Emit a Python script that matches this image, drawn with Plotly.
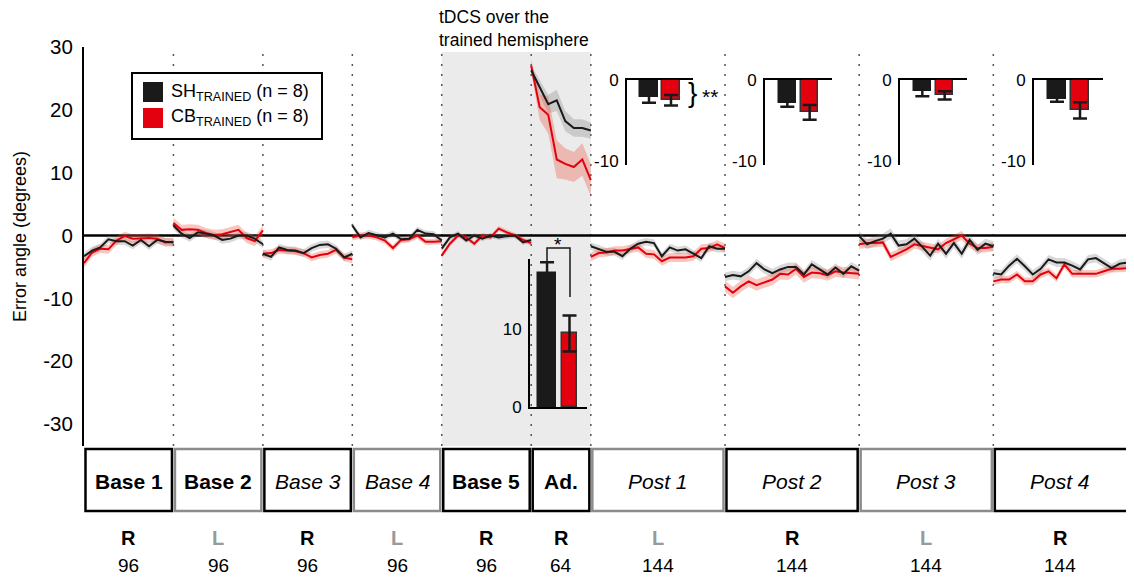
import plotly.graph_objects as go

W, H = 1134, 577
OFF = 8  # page body margin of the browser
FW, FH = W - OFF, H - OFF
FONT = "Liberation Sans, Arial, Helvetica, sans-serif"

# ---------------- data ----------------
blocks = ["Base 1", "Base 2", "Base 3", "Base 4", "Base 5", "Ad.", "Post 1", "Post 2", "Post 3", "Post 4"]
block_trials = [96, 96, 96, 96, 96, 64, 144, 144, 144, 144]
block_hand = ["R", "L", "R", "L", "R", "R", "L", "R", "L", "R"]
block_style = ["b", "b", "i", "i", "b", "b", "i", "i", "i", "i"]

sh_b1 = [-3.3, -2.4, -1.9, -0.6, -0.9, -0.9, -1.6, -0.7, -1.7, -0.7, -1.0, -1.1]
cb_b1 = [-4.4, -2.7, -2.1, -2.2, -0.8, -0.1, -0.5, -0.4, -0.4, -0.5, -1.1, -1.0]
sh_b2 = [1.6, 0.3, -0.4, 0.5, 0.3, 0.0, -0.7, -0.5, 0.0, 0.0, -0.5, -1.4]
cb_b2 = [2.0, 0.9, 1.0, 0.9, 0.4, 0.1, 0.2, 0.6, 0.9, -0.4, -0.9, 0.8]
sh_b3 = [-2.9, -3.4, -1.9, -2.3, -2.4, -2.8, -2.0, -1.5, -1.4, -2.1, -3.5, -2.9]
cb_b3 = [-2.9, -2.8, -2.3, -2.4, -2.5, -2.8, -3.5, -3.1, -2.9, -2.3, -3.5, -3.8]
sh_b4 = [1.6, -0.3, 0.4, 0.1, -0.3, 0.3, -0.6, -0.5, 0.9, 0.3, 0.2, -0.8]
cb_b4 = [-0.3, 0.0, 0.0, -0.3, -0.8, -2.0, -0.7, -0.6, 0.0, -1.0, -1.0, -0.9]
sh_b5 = [-2.1, -0.3, 0.3, -0.8, 0.0, -0.5, 0.0, -0.3, -0.1, 0.0, -1.1, -0.7]
cb_b5 = [-3.2, -1.3, 0.0, -0.3, -1.3, 0.0, -0.3, 1.1, 0.5, 0.0, -0.7, -1.2]
sh_ad = [26.3, 23.5, 20.9, 21.5, 18.2, 17.1, 17.1, 16.7]
cb_ad = [27.0, 20.4, 19.2, 12.1, 11.4, 10.9, 12.1, 8.8]
sh_p1 = [-1.7, -2.2, -2.6, -2.6, -3.3, -2.1, -1.3, -1.0, -1.2, -3.3, -1.9, -2.4, -2.2, -2.9, -3.6, -1.7, -2.1, -2.1]
cb_p1 = [-3.4, -2.8, -2.7, -2.4, -2.4, -2.1, -1.9, -2.9, -3.0, -4.1, -3.5, -3.5, -3.5, -3.3, -2.1, -2.0, -1.4, -2.0]
sh_p2 = [-6.6, -6.3, -6.5, -5.7, -4.4, -5.4, -6.0, -5.4, -5.0, -5.0, -6.2, -4.6, -5.4, -6.2, -5.1, -6.1, -4.9, -5.6]
cb_p2 = [-8.1, -9.1, -8.1, -7.3, -7.9, -7.4, -7.0, -6.1, -6.2, -5.3, -6.6, -5.9, -6.0, -6.3, -5.7, -5.9, -6.0, -6.1]
sh_p3 = [-0.1, -1.4, -0.9, -0.5, 0.3, -1.6, -1.4, -0.5, -1.8, -3.2, -1.3, -2.9, -1.2, -2.9, -0.7, -2.3, -1.3, -1.7]
cb_p3 = [-1.4, -1.2, -1.2, -1.1, -3.4, -2.8, -2.2, -1.4, -1.7, -2.0, -2.2, -1.2, -0.6, 0.0, -1.3, -2.0, -2.0, -1.8]
sh_p4 = [-6.0, -6.2, -4.8, -3.7, -4.9, -6.2, -5.3, -3.8, -4.3, -4.3, -4.8, -5.4, -3.8, -3.6, -4.4, -5.2, -4.5, -4.3]
cb_p4 = [-7.3, -7.0, -7.0, -6.2, -7.3, -7.3, -6.2, -5.7, -6.8, -4.6, -6.1, -6.1, -6.1, -6.1, -5.7, -5.3, -5.3, -5.2]

# SEM (per block, Ad. per point)
sh_sem_block = [0.6, 0.6, 0.6, 0.5, 0.4, None, 0.6, 0.7, 0.8, 0.7]
cb_sem_block = [0.7, 0.8, 0.6, 0.5, 0.4, None, 0.7, 0.9, 0.7, 0.6]
sh_sem_ad = [0.8, 1.2, 1.5, 1.7, 1.6, 1.4, 1.4, 1.3]
cb_sem_ad = [1.0, 2.0, 3.0, 3.0, 2.5, 2.4, 2.6, 2.5]

# inset bars
post_sh = [-2.1, -2.9, -1.4, -2.3]
post_sh_err = [0.7, 0.4, 0.6, 0.4]
post_cb = [-2.5, -4.0, -1.9, -3.75]
post_cb_err = [0.65, 0.9, 0.5, 1.0]
ad_bar_sh, ad_bar_sh_err = 17.1, 1.4
ad_bar_cb, ad_bar_cb_err = 9.4, 2.3

main_ticks = [-30, -20, -10, 0, 10, 20, 30]

BLACK = "#1a1a1a"
RED = "#e3000f"
GRAY_BORDER = "#8c8c8c"

sh_means = [sh_b1, sh_b2, sh_b3, sh_b4, sh_b5, sh_ad, sh_p1, sh_p2, sh_p3, sh_p4]
cb_means = [cb_b1, cb_b2, cb_b3, cb_b4, cb_b5, cb_ad, cb_p1, cb_p2, cb_p3, cb_p4]


def px(x):
    return (x - OFF) / FW


def py(y):
    return 1 - (y - OFF) / FH


fig = go.Figure()

starts = []
s = 0
for n in block_trials:
    starts.append(s)
    s += n
total = s
X_MAX = 1127  # visible axis runs slightly past the last trial


def add_block(i, means, sem_block, sem_ad, line_col, band_col, kind):
    n = len(means)
    st, ln = starts[i], block_trials[i]
    xs = [st + k * ln / (n - 1) for k in range(n)]
    sems = sem_ad if sem_block[i] is None else [sem_block[i]] * n
    if kind == "band":
        up = [m + e for m, e in zip(means, sems)]
        lo = [m - e for m, e in zip(means, sems)]
        fig.add_trace(go.Scatter(x=xs + xs[::-1], y=up + lo[::-1], fill="toself",
                                 fillcolor=band_col, line=dict(width=0), mode="lines",
                                 hoverinfo="skip", showlegend=False, xaxis="x", yaxis="y"))
    else:
        fig.add_trace(go.Scatter(x=xs, y=means, mode="lines", line=dict(color=line_col, width=2),
                                 showlegend=False, xaxis="x", yaxis="y"))


for i in range(len(blocks)):
    add_block(i, sh_means[i], sh_sem_block, sh_sem_ad, BLACK, "rgba(120,120,120,0.28)", "band")
    add_block(i, cb_means[i], cb_sem_block, cb_sem_ad, RED, "rgba(235,80,60,0.32)", "band")
for i in range(len(blocks)):
    add_block(i, cb_means[i], cb_sem_block, cb_sem_ad, RED, None, "line")
    add_block(i, sh_means[i], sh_sem_block, sh_sem_ad, BLACK, None, "line")

# ---- post-block inset bar charts ----
inset_x = [(627, 693), (765, 832), (900, 967), (1034, 1103)]
for k in range(4):
    ax = k + 2
    fig.add_trace(go.Bar(x=[1], y=[post_sh[k]], width=0.78, marker=dict(color=BLACK, line=dict(color=BLACK, width=1.5)),
                         error_y=dict(type="data", array=[post_sh_err[k]], color=BLACK, thickness=2.5, width=7),
                         xaxis=f"x{ax}", yaxis=f"y{ax}", showlegend=False))
    fig.add_trace(go.Bar(x=[2], y=[post_cb[k]], width=0.78, marker=dict(color=RED, line=dict(color="#333333", width=1.5)),
                         error_y=dict(type="data", array=[post_cb_err[k]], color=BLACK, thickness=2.5, width=7),
                         xaxis=f"x{ax}", yaxis=f"y{ax}", showlegend=False))

# ---- Ad. inset ----
fig.add_trace(go.Bar(x=[1], y=[ad_bar_sh], width=0.78, marker=dict(color=BLACK, line=dict(color=BLACK, width=1.5)),
                     error_y=dict(type="data", array=[ad_bar_sh_err], color=BLACK, thickness=2.5, width=7),
                     xaxis="x6", yaxis="y6", showlegend=False))
fig.add_trace(go.Bar(x=[2], y=[ad_bar_cb], width=0.7, marker=dict(color=RED, line=dict(color="#333333", width=1.5)),
                     error_y=dict(type="data", array=[ad_bar_cb_err], color=BLACK, thickness=2.5, width=7),
                     xaxis="x6", yaxis="y6", showlegend=False))

layout = dict(
    template="none",
    width=FW, height=FH, margin=dict(l=0, r=0, t=0, b=0, pad=0, autoexpand=False),
    paper_bgcolor="white", plot_bgcolor="rgba(0,0,0,0)",
    font=dict(family=FONT, color="black"),
    showlegend=False, bargap=0,
    xaxis=dict(domain=[px(84), 1.0], range=[0, X_MAX], visible=False, automargin=False),
    yaxis=dict(domain=[py(446), py(47)], range=[-33.5, 30], showline=True, linecolor="black", linewidth=2,
               showgrid=False, zeroline=False, ticks="", tickvals=main_ticks,
               ticktext=[str(v) for v in main_ticks], automargin=False,
               tickfont=dict(size=20.5), ticklabelstandoff=5),
)
for k in range(4):
    ax = k + 2
    x0, x1 = inset_x[k]
    layout[f"xaxis{ax}"] = dict(domain=[px(x0), px(x1)], range=[0, 3], anchor=f"y{ax}", side="top",
                                showline=True, linecolor="black", linewidth=2, showticklabels=False,
                                ticks="", showgrid=False, zeroline=False, automargin=False)
    layout[f"yaxis{ax}"] = dict(domain=[py(165), py(80)], range=[-10.5, 0], anchor=f"x{ax}",
                                showline=True, linecolor="black", linewidth=2, ticks="",
                                tickvals=[0, -10], ticktext=["0", "-10"], tickfont=dict(size=17),
                                showgrid=False, zeroline=False, ticklabelstandoff=3, automargin=False)
layout["xaxis6"] = dict(domain=[px(530), px(587)], range=[0.24, 2.78], anchor="y6", showline=True,
                        linecolor="black", linewidth=2, showticklabels=False, ticks="", showgrid=False,
                        zeroline=False, automargin=False)
layout["yaxis6"] = dict(domain=[py(407), py(259)], range=[0, 18.9], anchor="x6", showline=True,
                        linecolor="black", linewidth=2, ticks="", tickvals=[0, 10], ticktext=["0", "10"],
                        tickfont=dict(size=17), showgrid=False, zeroline=False, ticklabelstandoff=3,
                        automargin=False)
fig.update_layout(**layout)

shapes = []
# tDCS shading over Base 5 + Ad.
shapes.append(dict(type="rect", xref="x", yref="y", x0=starts[4], x1=starts[6], y0=-33.5, y1=29.2,
                   fillcolor="#ebebeb", line=dict(width=0), layer="below"))
# dotted block separators
for i in range(1, len(blocks)):
    shapes.append(dict(type="line", xref="x", yref="y", x0=starts[i], x1=starts[i], y0=-33.5, y1=29.2,
                       line=dict(color="#555555", width=1.5, dash="2px,8px"), layer="below"))
# zero line
shapes.append(dict(type="line", xref="x", yref="y", x0=0, x1=X_MAX, y0=0, y1=0,
                   line=dict(color="black", width=2.5), layer="below"))
# block boxes
for i in range(len(blocks)):
    col = "black" if block_hand[i] == "R" else GRAY_BORDER
    x1 = starts[i] + block_trials[i] - 1.6 if i < len(blocks) - 1 else X_MAX + 5
    shapes.append(dict(type="rect", xref="x", yref="paper", x0=starts[i] + 1.6,
                       x1=x1, y0=py(511), y1=py(449),
                       line=dict(color=col, width=2.5), fillcolor="white"))
# legend box
shapes.append(dict(type="rect", xref="paper", yref="paper", x0=px(132), x1=px(322), y0=py(139), y1=py(73),
                   line=dict(color="black", width=2), fillcolor="white"))
shapes.append(dict(type="rect", xref="paper", yref="paper", x0=px(143), x1=px(163), y0=py(102), y1=py(82),
                   line=dict(width=0), fillcolor=BLACK))
shapes.append(dict(type="rect", xref="paper", yref="paper", x0=px(143), x1=px(163), y0=py(128), y1=py(108),
                   line=dict(width=0), fillcolor=RED))
# significance bracket on Ad. inset
shapes.append(dict(type="path", xref="paper", yref="paper",
                   path=f"M {px(547)} {py(262)} L {px(547)} {py(248)} L {px(570)} {py(248)} L {px(570)} {py(297)}",
                   line=dict(color=BLACK, width=1.5)))
fig.update_layout(shapes=shapes)

ann = []
for i in range(len(blocks)):
    c = starts[i] + block_trials[i] / 2
    txt = f"<b>{blocks[i]}</b>" if block_style[i] == "b" else f"<i>{blocks[i]}</i>"
    ann.append(dict(x=c, y=py(481), xref="x", yref="paper", text=txt, showarrow=False,
                    font=dict(size=21, color="black"), xanchor="center", yanchor="middle"))
    hcol = "black" if block_hand[i] == "R" else "#999999"
    ann.append(dict(x=c, y=py(538), xref="x", yref="paper", text=f"<b>{block_hand[i]}</b>", showarrow=False,
                    font=dict(size=20, color=hcol), xanchor="center", yanchor="middle"))
    ann.append(dict(x=c, y=py(565), xref="x", yref="paper", text=str(block_trials[i]), showarrow=False,
                    font=dict(size=19, color="black"), xanchor="center", yanchor="middle"))

ann.append(dict(x=px(20), y=py(237), xref="paper", yref="paper", text="Error angle (degrees)",
                textangle=-90, showarrow=False, font=dict(size=18), xanchor="center", yanchor="middle"))
ann.append(dict(x=px(437), y=py(29), xref="paper", yref="paper",
                text="tDCS over the<br>trained hemisphere", align="left", showarrow=False,
                font=dict(size=17.5), xanchor="left", yanchor="middle"))
ann.append(dict(x=px(169), y=py(92), xref="paper", yref="paper",
                text="SH<sub>TRAINED</sub> (n = 8)", showarrow=False, font=dict(size=18),
                xanchor="left", yanchor="middle"))
ann.append(dict(x=px(169), y=py(118), xref="paper", yref="paper",
                text="CB<sub>TRAINED</sub> (n = 8)", showarrow=False, font=dict(size=18),
                xanchor="left", yanchor="middle"))
ann.append(dict(x=px(692), y=py(92), xref="paper", yref="paper", text="}", showarrow=False,
                font=dict(size=28), xanchor="center", yanchor="middle"))
ann.append(dict(x=px(700), y=py(96), xref="paper", yref="paper", text="**", showarrow=False,
                font=dict(size=21), xanchor="left", yanchor="middle"))
ann.append(dict(x=px(558), y=py(244), xref="paper", yref="paper", text="*", showarrow=False,
                font=dict(size=19), xanchor="center", yanchor="middle"))
fig.update_layout(annotations=ann)

fig.write_html("out.html")
